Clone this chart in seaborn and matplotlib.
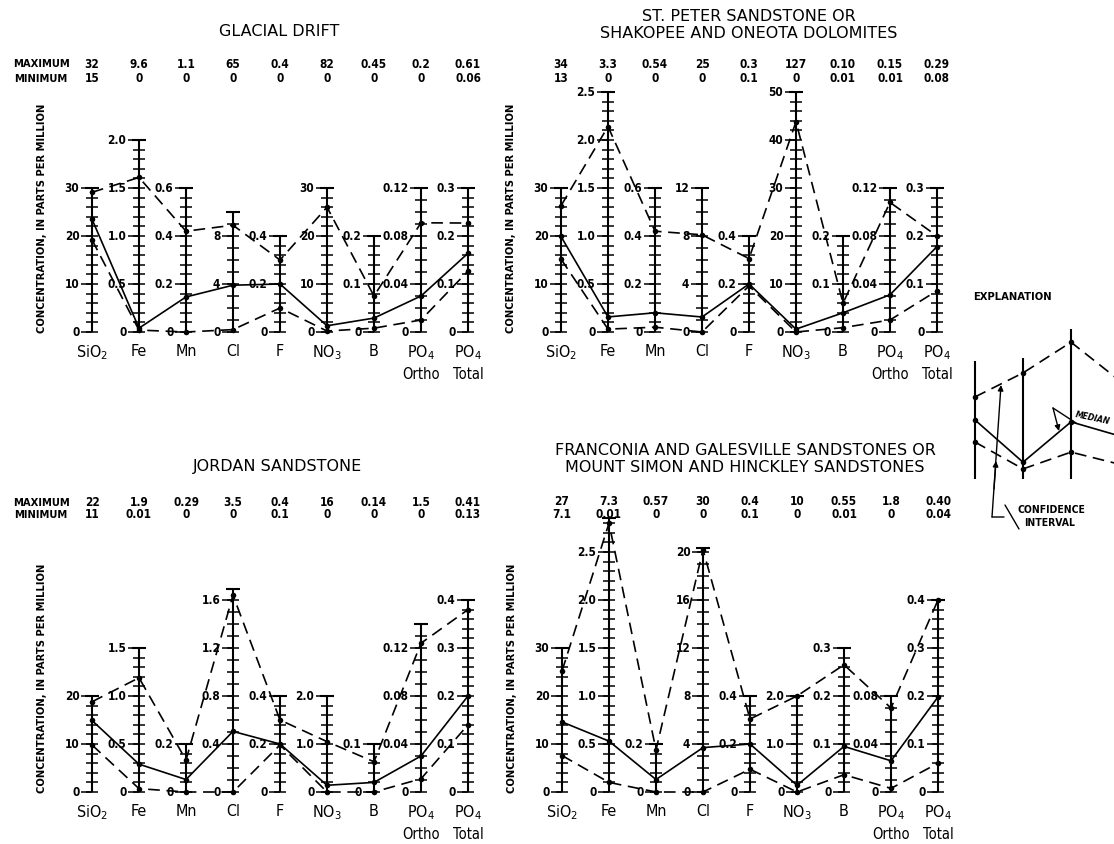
import matplotlib
matplotlib.use('Agg')
import matplotlib.pyplot as plt
import numpy as np
import pandas as pd
import seaborn as sns

W, H = 1114, 845

# constituents along the bottom of every panel
constituents = ['SiO$_2$', 'Fe', 'Mn', 'Cl', 'F', 'NO$_3$', 'B', 'PO$_4$', 'PO$_4$']
second_line = ['', '', '', '', '', '', '', 'Ortho', 'Total']

# Glacial drift
drift_max = ['32', '9.6', '1.1', '65', '0.4', '82', '0.45', '0.2', '0.61']
drift_min = ['15', '0', '0', '0', '0', '0', '0', '0', '0.06']
drift_upper = [29.1, 1.61, 0.42, 8.9, 0.30, 26.0, 0.075, 0.091, 0.227]
drift_median = [23.5, 0.04, 0.146, 3.9, 0.20, 1.3, 0.029, 0.030, 0.164]
drift_lower = [19.2, 0.02, 0.0, 0.2, 0.10, 0.2, 0.008, 0.010, 0.127]
drift_steps = ['10', '0.5', '0.2', '4', '0.2', '10', '0.1', '0.04', '0.1']
drift_tops = [30, 2.0, 0.6, 10, 0.4, 30, 0.2, 0.12, 0.3]

# St. Peter sandstone or Shakopee and Oneota dolomites
peter_max = ['34', '3.3', '0.54', '25', '0.3', '127', '0.10', '0.15', '0.29']
peter_min = ['13', '0', '0', '0', '0.1', '0', '0.01', '0.01', '0.08']
peter_upper = [26.3, 2.14, 0.42, 8.1, 0.306, 43.8, 0.06, 0.108, 0.20]
peter_median = [19.9, 0.157, 0.08, 1.25, 0.20, 0.6, 0.04, 0.031, 0.178]
peter_lower = [15.2, 0.03, 0.02, 0.0, 0.192, 0.0, 0.009, 0.010, 0.086]
peter_steps = ['10', '0.5', '0.2', '4', '0.2', '10', '0.1', '0.04', '0.1']
peter_tops = [30, 2.5, 0.6, 12, 0.4, 50, 0.2, 0.12, 0.3]

# Jordan sandstone
jordan_max = ['22', '1.9', '0.29', '3.5', '0.4', '16', '0.14', '1.5', '0.41']
jordan_min = ['11', '0.01', '0', '0', '0.1', '0', '0', '0', '0.13']
jordan_upper = [18.8, 1.19, 0.133, 1.64, 0.30, 1.05, 0.063, 0.124, 0.38]
jordan_median = [14.9, 0.29, 0.052, 0.505, 0.20, 0.14, 0.02, 0.030, 0.20]
jordan_lower = [9.8, 0.035, 0.0, 0.0, 0.196, 0.0, 0.0, 0.011, 0.14]
jordan_steps = ['10', '0.5', '0.2', '0.4', '0.2', '1.0', '0.1', '0.04', '0.1']
jordan_tops = [20, 1.5, 0.2, 1.69, 0.4, 2.0, 0.1, 0.14, 0.4]

# Franconia and Galesville or Mount Simon and Hinckley sandstones
franc_max = ['27', '7.3', '0.57', '30', '0.4', '10', '0.55', '1.8', '0.40']
franc_min = ['7.1', '0.01', '0', '0', '0.1', '0', '0.01', '0', '0.04']
franc_upper = [25.2, 2.8, 0.175, 20.2, 0.304, 2.0, 0.265, 0.070, 0.40]
franc_median = [14.6, 0.53, 0.052, 3.7, 0.20, 0.14, 0.095, 0.026, 0.198]
franc_lower = [7.6, 0.10, 0.0, 0.0, 0.095, 0.0, 0.036, 0.003, 0.06]
franc_steps = ['10', '0.5', '0.2', '4', '0.2', '1.0', '0.1', '0.04', '0.1']
franc_tops = [30, 2.85, 0.2, 20.3, 0.4, 2.0, 0.3, 0.08, 0.4]

# explanation sketch (in scale divisions)
legend_upper = [1.71, 2.21, 2.85, 2.06]
legend_median = [1.23, 0.35, 1.19, 0.9]
legend_lower = [0.77, 0.21, 0.56, 0.31]
legend_heights = [2.46, 2.52, 3.6, 3.6]

sns.set_theme(style='white')
plt.rcParams['font.family'] = ['DejaVu Sans']
plt.rcParams['font.stretch'] = 'condensed'
plt.rcParams['text.color'] = 'black'

DX, MP = 47, 48  # pixels per constituent, pixels per scale division

fig = plt.figure(figsize=(W / 100, H / 100), dpi=100)


def ftext(x, y, s, **kw):
    fig.text(x / W, 1 - y / H, s, **kw)


def make_axes(x0, base):
    left, right = x0 - 0.6 * DX, x0 + 8.6 * DX
    bottom, top = base + 1.3 * MP, base - 6.0 * MP
    ax = fig.add_axes([left / W, 1 - bottom / H, (right - left) / W, (bottom - top) / H])
    return ax


def draw_panel(ax, upper, median, lower, steps, tops):
    step = np.array([float(s) for s in steps])
    for i, s in enumerate(steps):
        h = tops[i] / step[i]
        ax.vlines(i, 0, h, color='black', lw=1.5, zorder=1)
        ndiv = 4 if s.strip('0.').startswith('4') else 5
        minor = np.arange(0, h + 1e-9, 1 / ndiv)
        ax.hlines(minor, i - 0.12, i + 0.12, color='black', lw=1.1, zorder=1)
        ax.hlines(h, i - 0.15, i + 0.15, color='black', lw=1.5, zorder=1)
        dec = len(s.split('.')[1]) if '.' in s else 0
        for k in range(int(np.floor(h + 1e-9)) + 1):
            ax.hlines(k, i - 0.24, i, color='black', lw=1.1, zorder=1)
            lab = '0' if k == 0 else f'{k * step[i]:.{dec}f}'
            ax.text(i - 0.27, k, lab, ha='right', va='center', fontsize=8.5,
                    fontweight='bold')
        ax.text(i, -0.22, constituents[i], ha='center', va='top', fontsize=11.5)
        if second_line[i]:
            ax.text(i, -0.7, second_line[i], ha='center', va='top', fontsize=10.5)

    n = len(steps)
    df = pd.DataFrame({
        'x': np.tile(np.arange(n), 3),
        'y': np.concatenate([np.array(upper) / step, np.array(median) / step,
                             np.array(lower) / step]),
        'line': ['upper'] * n + ['median'] * n + ['lower'] * n,
    })
    sns.lineplot(data=df, x='x', y='y', style='line',
                 dashes={'upper': (7, 4), 'median': '', 'lower': (7, 4)},
                 markers={'upper': 'o', 'median': 'o', 'lower': 'o'},
                 color='black', linewidth=1.2, markersize=4, markeredgewidth=0,
                 estimator=None, sort=False, legend=False, ax=ax, zorder=3)
    ax.set_xlim(-0.6, 8.6)
    ax.set_ylim(-1.3, 6.0)
    ax.axis('off')


panels = [
    (drift_upper, drift_median, drift_lower, drift_steps, drift_tops, drift_max, drift_min,
     'GLACIAL DRIFT', 92, 333, 31, 279, 64, 79, True),
    (peter_upper, peter_median, peter_lower, peter_steps, peter_tops, peter_max, peter_min,
     'ST. PETER SANDSTONE OR\nSHAKOPEE AND ONEOTA DOLOMITES', 561, 333, 25, 749, 65, 79, False),
    (jordan_upper, jordan_median, jordan_lower, jordan_steps, jordan_tops, jordan_max, jordan_min,
     'JORDAN SANDSTONE', 92, 793, 467, 278, 503, 515, True),
    (franc_upper, franc_median, franc_lower, franc_steps, franc_tops, franc_max, franc_min,
     'FRANCONIA AND GALESVILLE SANDSTONES OR\nMOUNT SIMON AND HINCKLEY SANDSTONES',
     562, 793, 459, 745, 502, 515, False),
]

for (up, med, lo, steps, tops, mx, mn, title, x0, base, ty, tx, ymax, ymin, names) in panels:
    ax = make_axes(x0, base)
    draw_panel(ax, up, med, lo, steps, tops)
    ftext(tx, ty, title, ha='center', va='center', fontsize=11.5, fontstretch='normal',
          linespacing=1.2)
    for i in range(len(mx)):
        ftext(x0 + i * DX, ymax, mx[i], ha='center', va='center', fontsize=8.5,
              fontweight='bold')
        ftext(x0 + i * DX, ymin, mn[i], ha='center', va='center', fontsize=8.5,
              fontweight='bold')
    if names:
        ftext(41, ymax, 'MAXIMUM', ha='center', va='center', fontsize=8, fontweight='bold')
        ftext(41, ymin, 'MINIMUM', ha='center', va='center', fontsize=8, fontweight='bold')
    ftext(x0 - 50, base - 115, 'CONCENTRATION, IN PARTS PER MILLION', rotation=90,
          ha='center', va='center', fontsize=8, fontweight='bold')

# explanation
ftext(1012, 297, 'EXPLANATION', ha='center', va='center', fontsize=8, fontweight='bold')
lx0, lbase, lright, ltop, lbottom = 975, 480, 1170, 330, 545
lax = fig.add_axes([960 / W, 1 - lbottom / H, (lright - 960) / W, (lbottom - ltop) / H])
lx = np.arange(len(legend_upper))
lax.vlines(lx, 0, legend_heights, color='black', lw=1.5)
ldf = pd.DataFrame({'x': np.tile(lx, 3),
                    'y': legend_upper + legend_median + legend_lower,
                    'line': ['upper'] * 4 + ['median'] * 4 + ['lower'] * 4})
sns.lineplot(data=ldf, x='x', y='y', style='line',
             dashes={'upper': (7, 4), 'median': '', 'lower': (7, 4)},
             markers={'upper': 'o', 'median': 'o', 'lower': 'o'},
             color='black', linewidth=1.2, markersize=4, markeredgewidth=0,
             estimator=None, sort=False, legend=False, ax=lax)
lax.set_xlim((960 - lx0) / MP, (lright - lx0) / MP)
lax.set_ylim((lbase - lbottom) / MP, (lbase - ltop) / MP)
lax.axis('off')


def P(x, y):
    return (x, H - y)


arrow = dict(arrowstyle='-|>', color='black', lw=1.0, mutation_scale=8, shrinkA=0, shrinkB=0)
line = dict(arrowstyle='-', color='black', lw=1.0, shrinkA=0, shrinkB=0)
fig.text(1074 / W, 1 - 418 / H, 'MEDIAN', rotation=-12, ha='left', va='center',
         fontsize=6.3, fontweight='bold', fontstyle='italic')
lax.annotate('', xy=P(1053, 409), xycoords='figure pixels', xytext=P(1076, 424),
             textcoords='figure pixels', arrowprops=line)
lax.annotate('', xy=P(1059, 432), xycoords='figure pixels', xytext=P(1053, 409),
             textcoords='figure pixels', arrowprops=arrow)
lax.annotate('', xy=P(1001, 386), xycoords='figure pixels', xytext=P(992, 518),
             textcoords='figure pixels', arrowprops=arrow)
lax.annotate('', xy=P(996, 462), xycoords='figure pixels', xytext=P(994, 490),
             textcoords='figure pixels', arrowprops=arrow)
lax.annotate('', xy=P(1004, 518), xycoords='figure pixels', xytext=P(992, 518),
             textcoords='figure pixels', arrowprops=line)
lax.annotate('', xy=P(1019, 530), xycoords='figure pixels', xytext=P(1005, 506),
             textcoords='figure pixels', arrowprops=line)
ftext(1017, 510, 'CONFIDENCE', ha='left', va='center', fontsize=7.5, fontweight='bold')
ftext(1024, 523, 'INTERVAL', ha='left', va='center', fontsize=7.5, fontweight='bold')

fig.savefig('out.png', dpi=100, facecolor='white')
